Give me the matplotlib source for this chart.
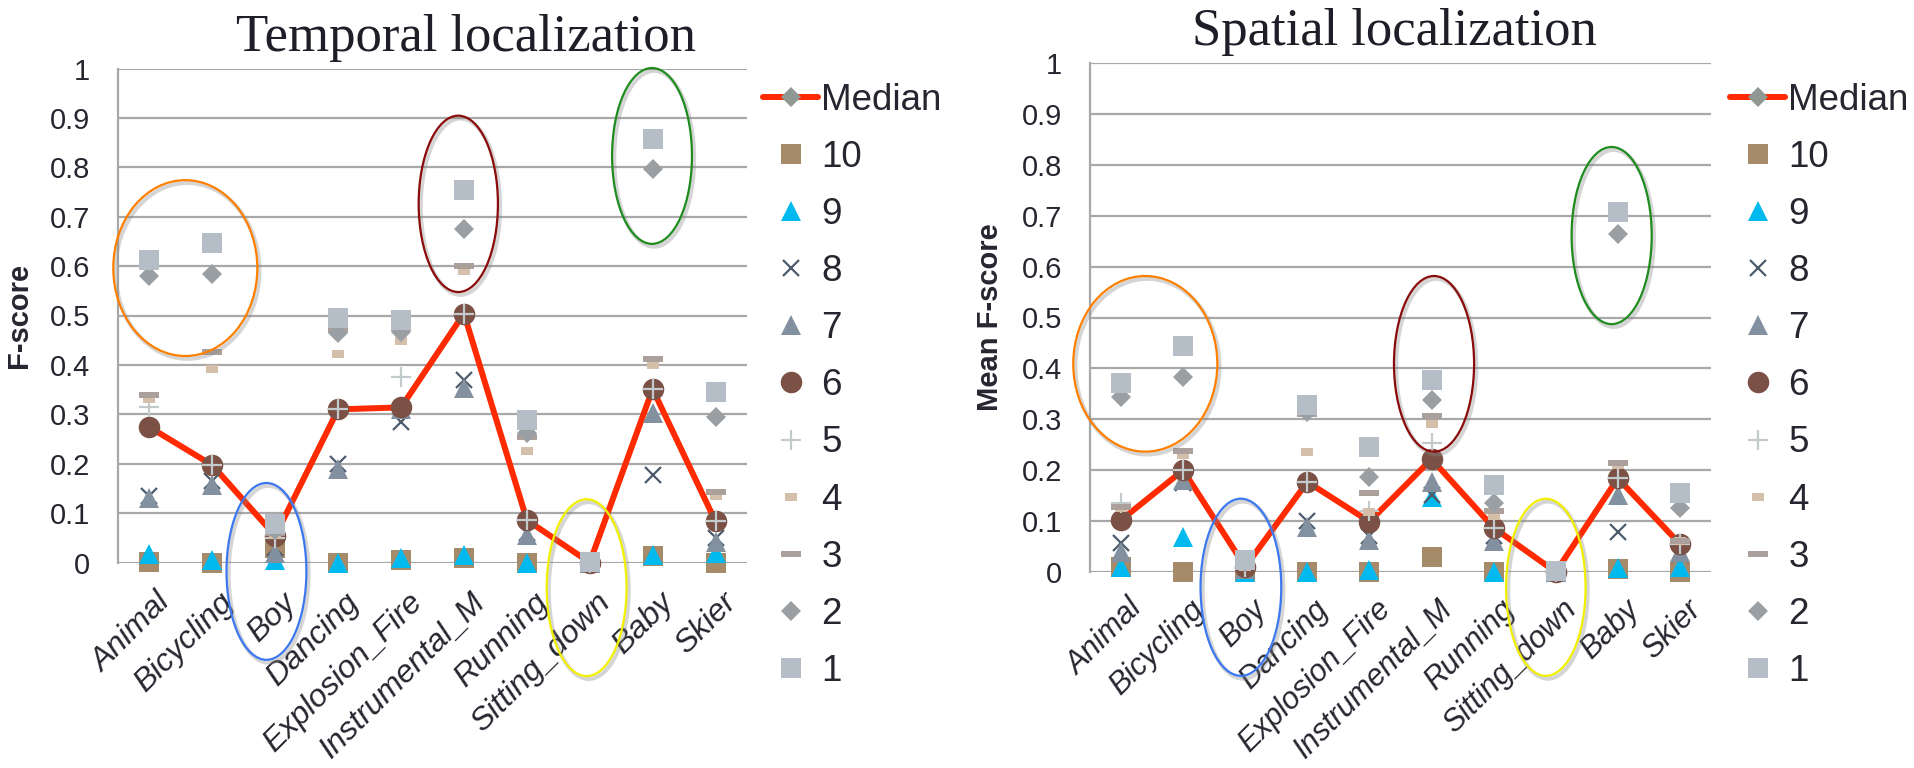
import matplotlib
matplotlib.use('Agg')
import matplotlib.pyplot as plt
import matplotlib.transforms as mtransforms
import matplotlib.patheffects as pe
from matplotlib.patches import Ellipse

categories = ['Animal', 'Bicycling', 'Boy', 'Dancing', 'Explosion_Fire',
              'Instrumental_M', 'Running', 'Sitting_down', 'Baby', 'Skier']
yticks = [0, 0.1, 0.2, 0.3, 0.4, 0.5, 0.6, 0.7, 0.8, 0.9, 1]
ytick_labels = ['0', '0.1', '0.2', '0.3', '0.4', '0.5', '0.6', '0.7', '0.8', '0.9', '1']

# temporal localization, F-score of each run (1 = best run)
t_median = [0.274, 0.197, 0.054, 0.310, 0.314, 0.504, 0.086, 0.0, 0.351, 0.083]
t_r10 = [0.002, 0.0, 0.03, 0.0, 0.005, 0.01, 0.0, 0.0, 0.013, 0.0]
t_r9 = [0.017, 0.005, 0.005, 0.0, 0.01, 0.015, 0.0, 0.0, 0.015, 0.02]
t_r8 = [0.135, 0.165, 0.03, 0.2, 0.285, 0.37, 0.06, 0.0, 0.177, 0.05]
t_r7 = [0.13, 0.157, 0.02, 0.19, 0.31, 0.353, 0.056, 0.0, 0.302, 0.042]
t_r6 = [0.274, 0.197, 0.054, 0.310, 0.314, 0.504, 0.086, 0.0, 0.351, 0.083]
t_r5 = [0.315, 0.197, 0.05, 0.31, 0.376, 0.504, 0.086, 0.0, 0.351, 0.083]
t_r4 = [0.33, 0.391, 0.055, 0.422, 0.449, 0.59, 0.226, 0.0, 0.40, 0.135]
t_r3 = [0.339, 0.427, 0.06, 0.47, 0.475, 0.600, 0.255, 0.0, 0.411, 0.143]
t_r2 = [0.579, 0.585, 0.065, 0.464, 0.467, 0.676, 0.262, 0.0, 0.796, 0.295]
t_r1 = [0.612, 0.646, 0.078, 0.494, 0.491, 0.754, 0.288, 0.002, 0.857, 0.346]

# spatial localization, mean F-score of each run
s_median = [0.102, 0.2, 0.01, 0.177, 0.099, 0.222, 0.087, 0.0, 0.184, 0.055]
s_r10 = [0.01, 0.0, 0.0, 0.0, 0.0, 0.029, 0.0, 0.0, 0.005, 0.0]
s_r9 = [0.01, 0.069, 0.0, 0.0, 0.003, 0.148, 0.0, 0.0, 0.007, 0.01]
s_r8 = [0.057, 0.175, 0.005, 0.1, 0.07, 0.151, 0.07, 0.0, 0.079, 0.035]
s_r7 = [0.04, 0.18, 0.005, 0.089, 0.063, 0.177, 0.06, 0.0, 0.151, 0.04]
s_r6 = [0.102, 0.2, 0.01, 0.177, 0.099, 0.222, 0.087, 0.0, 0.184, 0.055]
s_r5 = [0.135, 0.2, 0.01, 0.177, 0.12, 0.253, 0.087, 0.0, 0.184, 0.055]
s_r4 = [0.125, 0.23, 0.01, 0.236, 0.117, 0.29, 0.11, 0.0, 0.21, 0.06]
s_r3 = [0.127, 0.238, 0.015, 0.31, 0.155, 0.306, 0.12, 0.0, 0.214, 0.061]
s_r2 = [0.344, 0.384, 0.02, 0.315, 0.187, 0.338, 0.135, 0.0, 0.665, 0.125]
s_r1 = [0.371, 0.444, 0.024, 0.328, 0.245, 0.377, 0.171, 0.002, 0.708, 0.155]

run_labels = ['10', '9', '8', '7', '6', '5', '4', '3', '2', '1']

# highlighted groups: (x centre, y centre, width, height, colour)
t_rings = [(0.57, 0.596, 2.29, 0.356, '#FF8000'), (4.91, 0.726, 1.26, 0.357, '#8B0A0A'),
           (7.99, 0.823, 1.27, 0.356, '#1E8C1E'), (1.86, -0.018, 1.27, 0.358, '#3C78F0'),
           (6.95, -0.051, 1.27, 0.358, '#F2F000')]
s_rings = [(0.39, 0.409, 2.32, 0.345, '#FF8000'), (5.04, 0.409, 1.29, 0.345, '#8B0A0A'),
           (7.90, 0.661, 1.29, 0.348, '#1E8C1E'), (1.93, -0.03, 1.3, 0.348, '#3C78F0'),
           (6.84, -0.03, 1.28, 0.348, '#F2F000')]

wide_dash = [(-1.5, -0.5), (1.5, -0.5), (1.5, 0.5), (-1.5, 0.5), (-1.5, -0.5)]
short_dash = [(-0.85, -0.5), (0.85, -0.5), (0.85, 0.5), (-0.85, 0.5), (-0.85, -0.5)]
# marker, colour, size for runs 10 .. 1
run_styles = [('s', '#A68B6B', 15), ('^', '#00B9EF', 15), ('x', '#4D5B6B', 12),
              ('^', '#8390A0', 15), ('o', '#7B5045', 15.5), ('+', '#C3CACB', 15),
              (short_dash, '#D4C0AA', 9), (wide_dash, '#ACA09D', 14.5),
              ('D', '#9A9FA3', 10.5), ('s', '#B5BDC7', 15)]

plt.rcParams['font.family'] = ['Liberation Sans', 'DejaVu Sans']
text_color = '#262631'
grid_color = '#A8A8A8'

fig = plt.figure(figsize=(19.15, 7.68), dpi=100)


def panel(rect, median, runs, rings, title, title_xy, ylabel, ylabel_x, legend_x,
          xlabel_size, xlabel_pad):
    ax = fig.add_axes(rect)
    x = list(range(len(categories)))
    handles = []
    h, = ax.plot(x, median, color='#FF2A00', lw=4.3, marker='D', ms=10.5,
                 mfc='#8F9892', mec='#8F9892', mew=0, label='Median',
                 clip_on=False, zorder=2, solid_capstyle='round')
    handles.append(h)
    for i, (vals, lab, (mk, col, ms)) in enumerate(zip(runs, run_labels, run_styles)):
        thin = mk in ('x', '+')
        h, = ax.plot(x, vals, ls='none', marker=mk, ms=ms, mfc=col, mec=col,
                     mew=1.6 if thin else 0, label=lab, clip_on=False, zorder=3 + i)
        handles.append(h)
    for cx, cy, w, hgt, col in rings:
        e = Ellipse((cx, cy), w, hgt, fill=False, edgecolor=col, lw=1.6,
                    clip_on=False, zorder=20)
        e.set_path_effects([pe.SimpleLineShadow(offset=(1.5, -2), shadow_color='#888888',
                                                alpha=0.35, linewidth=3),
                            pe.Normal()])
        ax.add_patch(e)

    ax.set_xlim(-0.5, len(categories) - 0.5)
    ax.set_ylim(0, 1)
    ax.set_yticks(yticks)
    ax.set_yticklabels(ytick_labels)
    ax.yaxis.grid(True, color=grid_color, lw=1.6)
    ax.set_axisbelow(True)
    for s in ('top', 'right', 'bottom'):
        ax.spines[s].set_visible(False)
    ax.spines['left'].set_color(grid_color)
    ax.spines['left'].set_linewidth(1.6)
    ax.tick_params(axis='y', length=0, pad=20, labelsize=21, labelcolor=text_color)
    ax.tick_params(axis='x', length=0, pad=xlabel_pad, labelsize=xlabel_size,
                   labelcolor=text_color)
    ax.set_xticks(x)
    ax.set_xticklabels(categories, rotation=45, ha='right', va='top',
                       rotation_mode='anchor', style='italic')
    shift = mtransforms.ScaledTranslation(6 / 100, 0, fig.dpi_scale_trans)
    for lbl in ax.get_xticklabels():
        lbl.set_transform(lbl.get_transform() + shift)

    fig.text(title_xy[0], title_xy[1], title, ha='center', va='baseline',
             family='Liberation Serif', fontsize=38, color='#1E1E28')
    fig.text(ylabel_x, rect[1] + rect[3] / 2, ylabel, rotation=90, ha='center',
             va='center', fontsize=21, fontweight='bold', color=text_color)
    fig.legend(handles=handles, loc='upper left', bbox_to_anchor=(legend_x, 0.892),
               frameon=False, fontsize=26.5, labelspacing=0.6, handlelength=1.5,
               handletextpad=0.08, borderpad=0, borderaxespad=0, labelcolor=text_color)
    return ax


panel([118 / 1915, 1 - 562.5 / 768, 629 / 1915, 494 / 768], t_median,
      [t_r10, t_r9, t_r8, t_r7, t_r6, t_r5, t_r4, t_r3, t_r2, t_r1], t_rings,
      'Temporal localization', (466 / 1915, 1 - 51 / 768), 'F-score', 19 / 1915,
      763 / 1915, 23, 18)
panel([1090 / 1915, 1 - 572 / 768, 621 / 1915, 509 / 768], s_median,
      [s_r10, s_r9, s_r8, s_r7, s_r6, s_r5, s_r4, s_r3, s_r2, s_r1], s_rings,
      'Spatial localization', (1394 / 1915, 1 - 45 / 768), 'Mean F-score', 990 / 1915,
      1730 / 1915, 22, 16)

fig.savefig('out.png', dpi=100)
